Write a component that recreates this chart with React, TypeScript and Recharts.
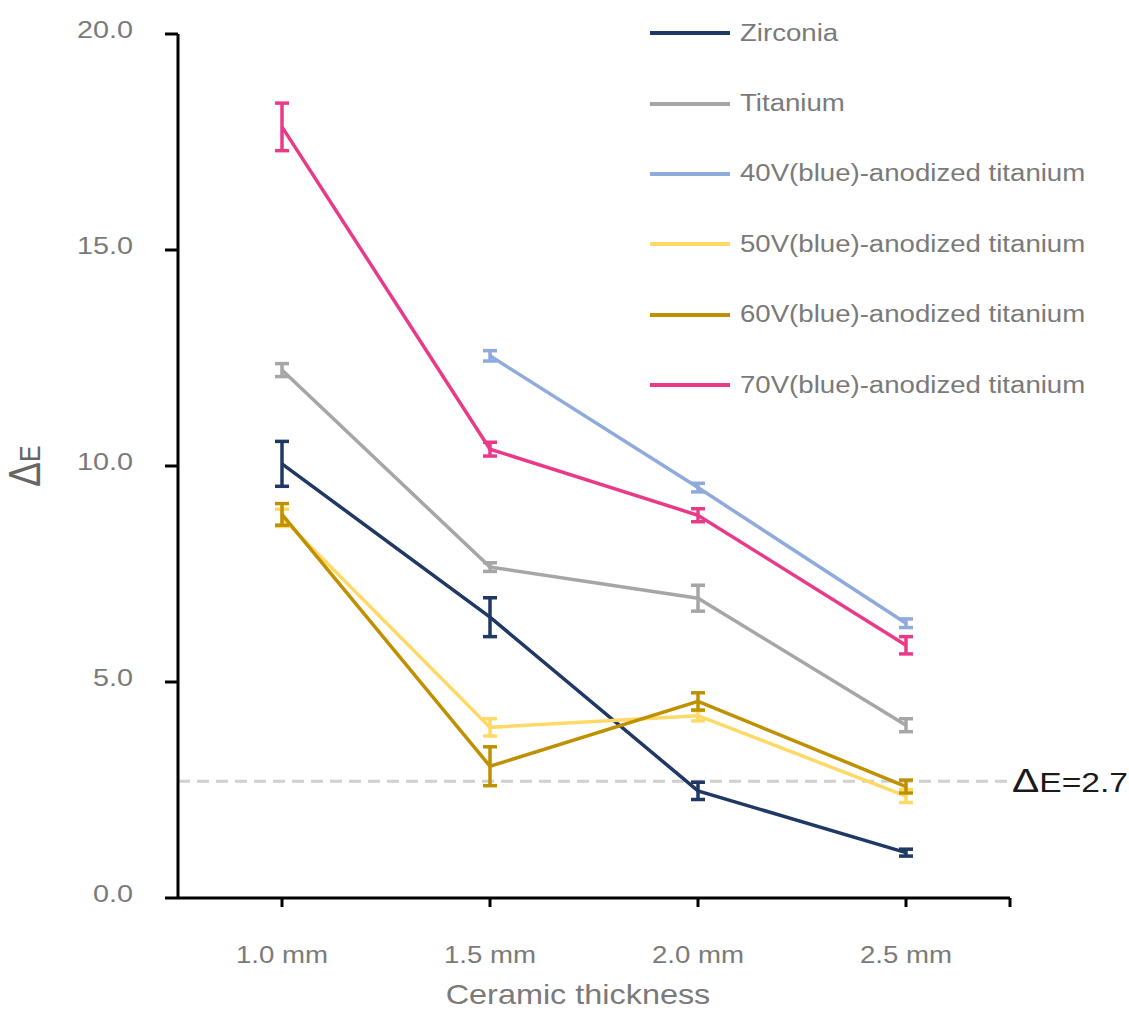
import React from 'react';
import { LineChart, Line, XAxis, YAxis, ErrorBar, ReferenceLine, Legend } from 'recharts';

// ceramic thickness categories
const categories = ['1.0 mm', '1.5 mm', '2.0 mm', '2.5 mm'];

// mean ΔE and SD per material
const zirconia = [10.05, 6.5, 2.48, 1.05];
const zirconiaErr = [0.52, 0.45, 0.2, 0.08];
const titanium = [12.22, 7.66, 6.94, 4.0];
const titaniumErr = [0.15, 0.1, 0.3, 0.15];
const v40 = [null, 12.55, 9.5, 6.36];
const v40Err = [null, 0.12, 0.1, 0.1];
const v50 = [8.8, 3.95, 4.22, 2.36];
const v50Err = [0.2, 0.2, 0.12, 0.15];
const v60 = [8.88, 3.05, 4.55, 2.58];
const v60Err = [0.25, 0.45, 0.2, 0.15];
const v70 = [17.85, 10.39, 8.86, 5.85];
const v70Err = [0.55, 0.16, 0.15, 0.2];

const yTicks = [0, 5, 10, 15, 20];
const threshold = 2.7;

const series = [
  { key: 'zirconia', name: 'Zirconia', color: '#1f3864', values: zirconia, errs: zirconiaErr },
  { key: 'titanium', name: 'Titanium', color: '#a6a6a6', values: titanium, errs: titaniumErr },
  { key: 'v40', name: '40V(blue)-anodized titanium', color: '#8faadc', values: v40, errs: v40Err },
  { key: 'v50', name: '50V(blue)-anodized titanium', color: '#ffd966', values: v50, errs: v50Err },
  { key: 'v60', name: '60V(blue)-anodized titanium', color: '#bf9000', values: v60, errs: v60Err },
  { key: 'v70', name: '70V(blue)-anodized titanium', color: '#e93a8a', values: v70, errs: v70Err },
];

const data = categories.map((c, i) => {
  const row: any = { pos: i + 1, label: c };
  series.forEach((s) => {
    row[s.key] = s.values[i];
    row[s.key + 'Err'] = s.errs[i];
  });
  return row;
});

const FONT = '"Liberation Sans", Arial, sans-serif';
const SX = 1.2; // the original figure is stretched horizontally
const GREY = '#7a7a7a';

function YTick({ x, y, payload }: any) {
  return (
    <g transform={`translate(${x},${y})`}>
      <text transform={`scale(${SX},1)`} textAnchor="end" dy={3.5} fontSize={24} fill={GREY} fontFamily={FONT}>
        {Number(payload.value).toFixed(1)}
      </text>
    </g>
  );
}

function XTick({ x, y, payload }: any) {
  const label = categories[payload.value - 1];
  if (!label) return <g />;
  return (
    <g transform={`translate(${x},${y})`}>
      <text transform={`scale(${SX},1)`} textAnchor="middle" dy={54} fontSize={23} fill={GREY} fontFamily={FONT}>
        {label}
      </text>
    </g>
  );
}

function XTitle({ viewBox }: any) {
  const vb = viewBox || { x: 178, y: 898, width: 832, height: 114 };
  return (
    <g transform={`translate(${vb.x + vb.width / 2 - 16},${vb.y + 106})`}>
      <text transform={`scale(${SX},1)`} textAnchor="middle" fontSize={27} fill={GREY} fontFamily={FONT}>
        Ceramic thickness
      </text>
    </g>
  );
}

function YTitle({ viewBox }: any) {
  const vb = viewBox || { x: 0, y: 34, width: 178, height: 864 };
  return (
    <g transform={`translate(40,${vb.y + vb.height / 2}) scale(${SX},1) rotate(-90)`}>
      <text textAnchor="middle" fill="#666" fontFamily={FONT}>
        <tspan fontSize={37}>Δ</tspan>
        <tspan fontSize={25}>E</tspan>
      </text>
    </g>
  );
}

function ThresholdLabel({ viewBox }: any) {
  const vb = viewBox || { x: 178, y: 780, width: 832 };
  return (
    <g transform={`translate(${vb.x + vb.width + 2},${vb.y + 11})`}>
      <text transform={`scale(${SX},1)`} fill="#1a1a1a" fontFamily={FONT}>
        <tspan fontSize={34}>Δ</tspan>
        <tspan fontSize={28}>E=2.7</tspan>
      </text>
    </g>
  );
}

function LegendContent({ payload }: any) {
  // keep the legend in series order
  const items = [...(payload || [])].sort(
    (a: any, b: any) =>
      series.findIndex((s) => s.name === a.value) - series.findIndex((s) => s.name === b.value)
  );
  return (
    <div style={{ fontFamily: FONT }}>
      {items.map((p: any) => (
        <div key={p.value} style={{ height: 70.4, display: 'flex', alignItems: 'center' }}>
          <div style={{ width: 80, height: 4, background: p.color }} />
          <span
            style={{
              marginLeft: 10,
              fontSize: 23,
              color: GREY,
              display: 'inline-block',
              whiteSpace: 'nowrap',
              transform: `scaleX(${SX})`,
              transformOrigin: 'left center',
            }}
          >
            {p.value}
          </span>
        </div>
      ))}
    </div>
  );
}

export default function App() {
  return (
    <div style={{ position: 'absolute', left: 0, top: 0, background: '#fff' }}>
      <LineChart width={1129} height={1012} data={data} margin={{ top: 34, right: 119, left: 0, bottom: 0 }}>
        <XAxis
          dataKey="pos"
          type="number"
          domain={[0.5, 4.5]}
          ticks={[1, 2, 3, 4, 4.5]}
          height={114}
          axisLine={{ stroke: '#000', strokeWidth: 3 }}
          tickLine={{ stroke: '#000', strokeWidth: 3 }}
          tickSize={9}
          tick={<XTick />}
          label={{ content: (props: any) => <XTitle {...props} /> }}
        />
        <YAxis
          domain={[0, 20]}
          ticks={yTicks}
          width={178}
          axisLine={{ stroke: '#000', strokeWidth: 3 }}
          tickLine={{ stroke: '#000', strokeWidth: 3 }}
          tickSize={13}
          tickMargin={32}
          tick={<YTick />}
          label={{ content: (props: any) => <YTitle {...props} /> }}
        />
        <ReferenceLine
          y={threshold}
          stroke="#d0d0d0"
          strokeWidth={3}
          strokeDasharray="12 7"
          label={{ content: (props: any) => <ThresholdLabel {...props} /> }}
        />
        <Legend
          layout="vertical"
          align="center"
          verticalAlign="middle"
          wrapperStyle={{ top: -2, left: 650, width: 470 }}
          content={<LegendContent />}
        />
        {series.map((s) => (
          <Line
            key={s.key}
            type="linear"
            dataKey={s.key}
            name={s.name}
            stroke={s.color}
            strokeWidth={3.5}
            dot={false}
            activeDot={false}
            isAnimationActive={false}
          >
            <ErrorBar dataKey={s.key + 'Err'} direction="y" width={7} stroke={s.color} strokeWidth={3.5} />
          </Line>
        ))}
      </LineChart>
    </div>
  );
}
